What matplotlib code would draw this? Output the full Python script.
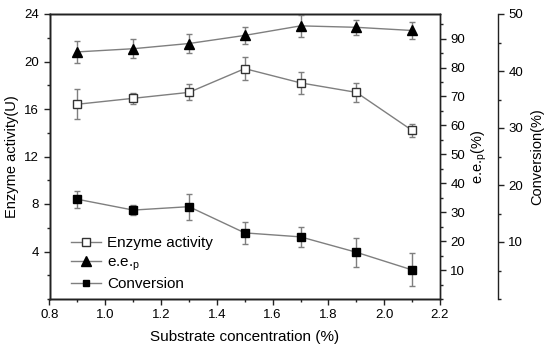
import matplotlib
matplotlib.use("Agg")
import matplotlib.pyplot as plt
from matplotlib.ticker import MultipleLocator
from matplotlib.lines import Line2D

plt.rcParams['font.family'] = ['Liberation Sans', 'DejaVu Sans']

conc = [0.9, 1.1, 1.3, 1.5, 1.7, 1.9, 2.1]
enzyme = [16.4, 16.9, 17.4, 19.4, 18.2, 17.4, 14.2]
enzyme_err = [1.27, 0.46, 0.67, 0.99, 0.9, 0.8, 0.55]
ee = [85.4, 86.5, 88.3, 91.1, 94.4, 93.9, 92.8]
ee_err = [3.9, 3.2, 3.3, 2.8, 3.7, 2.5, 3.0]
conv = [17.5, 15.6, 16.2, 11.6, 10.9, 8.2, 5.1]
conv_err = [1.5, 0.9, 2.3, 1.95, 1.8, 2.5, 2.9]

LC = '#7f7f7f'
fig = plt.figure(figsize=(5.5, 3.57), dpi=100)
ax = fig.add_axes([49.5/550, 1-299/357, (440-49.5)/550, (299-14)/357])
ax2 = ax.twinx()
ax3 = ax.twinx()
ax3.spines['right'].set_position(('outward', 58*72/100))

for a in (ax, ax2, ax3):
    for s in a.spines.values():
        s.set_linewidth(1.0)
        s.set_color('#222222')

ax.errorbar(conc, enzyme, yerr=enzyme_err, color=LC, lw=1, marker='s', ms=6,
            mfc='white', mec='#333333', mew=1, ecolor=LC, elinewidth=1, capsize=2.5, zorder=3)
ax2.errorbar(conc, ee, yerr=ee_err, color=LC, lw=1, marker='^', ms=7.5,
             mfc='black', mec='black', ecolor=LC, elinewidth=1, capsize=2.5, zorder=3)
ax3.errorbar(conc, conv, yerr=conv_err, color=LC, lw=1, marker='s', ms=5.5,
             mfc='black', mec='black', ecolor=LC, elinewidth=1, capsize=2.5, zorder=3)

ax.set_xlim(0.8, 2.2)
ax.set_ylim(0, 24)
ax2.set_ylim(0, 98.5)
ax3.set_ylim(0, 50)

ax.set_xticks([0.8, 1.0, 1.2, 1.4, 1.6, 1.8, 2.0, 2.2])
ax.set_xticklabels(['0.8', '1.0', '1.2', '1.4', '1.6', '1.8', '2.0', '2.2'])
ax.xaxis.set_minor_locator(MultipleLocator(0.1))
ax.set_yticks([4, 8, 12, 16, 20, 24])
ax.yaxis.set_minor_locator(MultipleLocator(2))
ax2.set_yticks([10, 20, 30, 40, 50, 60, 70, 80, 90])
ax2.yaxis.set_minor_locator(MultipleLocator(5))
ax3.set_yticks([10, 20, 30, 40, 50])
ax3.yaxis.set_minor_locator(MultipleLocator(5))

for a in (ax, ax2, ax3):
    a.tick_params(which='both', direction='out', labelsize=9.5, color='#222222', width=1)
    a.tick_params(which='major', length=4)
    a.tick_params(which='minor', length=2.5)
ax.tick_params(axis='x', which='both', top=False)
ax.tick_params(axis='y', right=False, which='both')

ax.set_xlabel('Substrate concentration (%)', fontsize=11, labelpad=6)
ax.set_ylabel('Enzyme activity(U)', fontsize=10.5, labelpad=4)
ax2.set_ylabel('e.e.$_\\mathregular{p}$(%)', fontsize=10.5, labelpad=3)
ax3.set_ylabel('Conversion(%)', fontsize=10.5, labelpad=5)

handles = [
    Line2D([], [], color=LC, lw=1, marker='s', ms=6, mfc='white', mec='#333333'),
    Line2D([], [], color=LC, lw=1, marker='^', ms=7.5, mfc='black', mec='black'),
    Line2D([], [], color=LC, lw=1, marker='s', ms=5, mfc='black', mec='black'),
]
labels = ['Enzyme activity', 'e.e.$_\\mathregular{p}$', 'Conversion']
ax.legend(handles, labels, loc='lower left', bbox_to_anchor=(0.035, 0.0), frameon=False,
          fontsize=11, handlelength=2.0, handletextpad=0.4, labelspacing=0.3,
          borderaxespad=0.1)

fig.savefig('out.png', dpi=100)
